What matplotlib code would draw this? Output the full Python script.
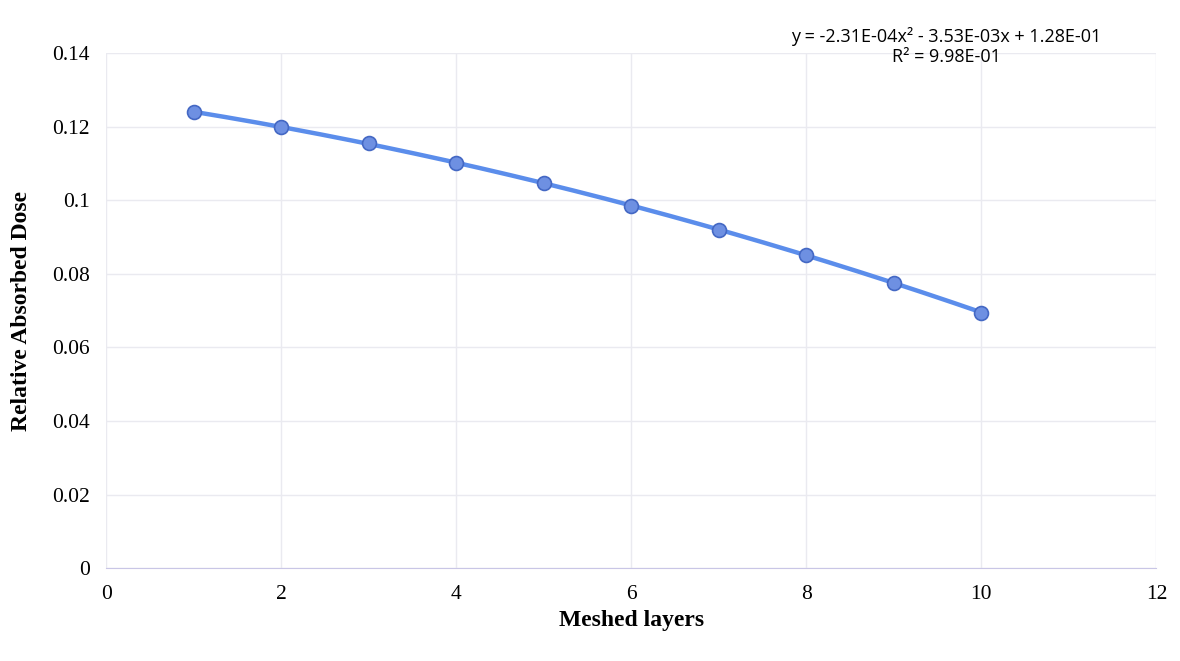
import matplotlib
matplotlib.use("Agg")
import matplotlib.pyplot as plt
import numpy as np

plt.rcParams.update({
    'font.family': ['Liberation Serif', 'DejaVu Serif'],
    'font.size': 14,
})

# data (Meshed layers vs relative absorbed dose)
layers = [1, 2, 3, 4, 5, 6, 7, 8, 9, 10]
dose = [0.1240, 0.1198, 0.1155, 0.1100, 0.1047, 0.0985, 0.0920, 0.0850, 0.0776, 0.0695]

x_ticks = [0, 2, 4, 6, 8, 10, 12]
y_ticks = [0, 0.02, 0.04, 0.06, 0.08, 0.1, 0.12, 0.14]
y_labels = ['0', '0.02', '0.04', '0.06', '0.08', '0.1', '0.12', '0.14']

eq_text = 'y = -2.31E-04x² - 3.53E-03x + 1.28E-01\nR² = 9.98E-01'

fig = plt.figure(figsize=(11.8, 6.61), dpi=100)
ax = fig.add_axes([0.09, 0.14, 0.89, 0.78])

# quadratic trendline through the points
coef = np.polyfit(layers, dose, 2)
xs = np.linspace(layers[0], layers[-1], 200)
ax.plot(xs, np.polyval(coef, xs), color='#5B8DEB', lw=3.2, zorder=2)
ax.plot(layers, dose, 'o', ms=10, mfc='#6E90E2', mec='#4468C4', mew=1.2, zorder=3)

ax.set_xlim(0, 12)
ax.set_ylim(0, 0.14)
ax.set_xticks(x_ticks)
ax.set_yticks(y_ticks)
ax.set_yticklabels(y_labels)
ax.tick_params(length=0, labelsize=15.5, pad=12)
ax.grid(True, color='#EAEAF0', lw=1)
ax.set_axisbelow(True)
for s in ['top', 'right', 'left']:
    ax.spines[s].set_visible(False)
ax.spines['bottom'].set_color('#C9C6E6')

ax.set_xlabel('Meshed layers', fontsize=17, fontweight='bold')
ax.set_ylabel('Relative Absorbed Dose', fontsize=17, fontweight='bold', labelpad=14)

ax.text(0.80, 1.05, eq_text, transform=ax.transAxes, ha='center', va='top',
        fontsize=13, family=['Open Sans', 'DejaVu Sans'], linespacing=1.15)

fig.savefig('out.png')
